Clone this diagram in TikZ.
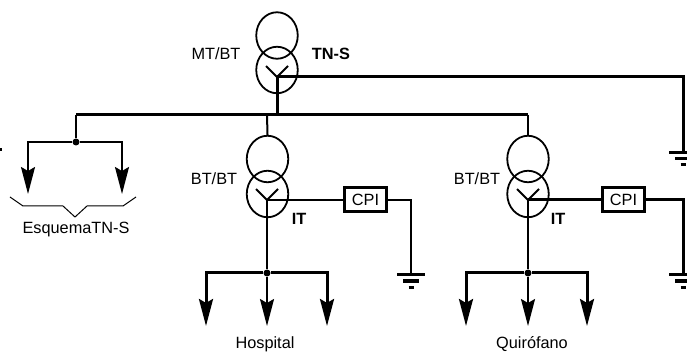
\documentclass[tikz,border=0pt]{standalone}
\usepackage{fontspec}
\setmainfont{Liberation Sans}
\usetikzlibrary{arrows.meta}
\usetikzlibrary{shapes.geometric}
\tikzset{
  winding/.style={ellipse,draw,line width=1.8pt,minimum width=41.5pt,minimum height=46.5pt,inner sep=0pt},
  junction/.style={circle,fill,inner sep=0pt,minimum size=7pt},
  label/.style={inner sep=0pt,font=\fontsize{16.3}{18}\selectfont},
  cpibox/.style={draw,line width=3pt,minimum width=42pt,minimum height=24pt,inner sep=0pt,font=\fontsize{16.3}{18}\selectfont},
  wire/.style={line width=2pt},
  heavy/.style={line width=3pt},
  feed/.style={-{Stealth[length=27pt,width=14pt,inset=4pt]}},
}
\begin{document}
\begin{tikzpicture}[x=1pt,y=-1pt]
    \clip (0,0) rectangle (687,352);

    % The transformers
    \node[winding] (mtupper) at (277,35.5) {};
    \node[winding] (mtlower) at (277,70) {};
    \node[winding] (hospupper) at (267.5,159) {};
    \node[winding] (hosplower) at (267.5,194) {};
    \node[winding] (quirupper) at (528,159) {};
    \node[winding] (quirlower) at (528,194) {};

    % The star points
    \coordinate (mtstar) at (277,77);
    \coordinate (hospstar) at (267,200);
    \coordinate (quirstar) at (528,200);
    \foreach \s in {mtstar,hospstar,quirstar} {
        \draw[wire,shift={(\s)}] (-11,-11) -- (0,0) -- (11,-11);
    }

    % The busbar
    \coordinate (busmt) at (277,115);
    \coordinate (bushosp) at (267,115);
    \coordinate (busleft) at (76,115);
    \coordinate (busright) at (528,115);
    \draw[heavy] (busleft) -- (busright);
    \draw[heavy] (mtstar) -- (busmt);
    \draw[wire] (bushosp) -- (hospupper.north);
    \draw[wire] (busright) -- (quirupper.north);

    % The TN-S branch
    \node[junction] (tnsnode) at (76,142) {};
    \coordinate (tnsleft) at (28,142);
    \coordinate (tnsright) at (122,142);
    \coordinate (tnslefttip) at (28,194);
    \coordinate (tnsrighttip) at (122,194);
    \draw[wire] (busleft) -- (tnsnode);
    \draw[wire,feed] (tnsnode) -- (tnsleft) -- (tnslefttip);
    \draw[wire,feed] (tnsnode) -- (tnsright) -- (tnsrighttip);
    \draw[line width=1pt] (10,197) -- (23,206) -- (63,206) -- (75,217) -- (87,206) -- (123,206) -- (136,197);

    % The Hospital branch
    \node[junction] (hospnode) at (267,273) {};
    \coordinate (hospleft) at (206,273);
    \coordinate (hospright) at (327,273);
    \coordinate (hosplefttip) at (206,326);
    \coordinate (hospmidtip) at (267,326);
    \coordinate (hosprighttip) at (327,326);
    \draw[wire] (hospstar) -- (hospnode);
    \draw[heavy,feed] (hospnode) -- (hospleft) -- (hosplefttip);
    \draw[wire,feed] (hospnode) -- (hospmidtip);
    \draw[heavy,feed] (hospnode) -- (hospright) -- (hosprighttip);

    % The Quirofano branch
    \node[junction] (quirnode) at (528,273) {};
    \coordinate (quirleft) at (466,273);
    \coordinate (quirright) at (587,273);
    \coordinate (quirlefttip) at (466,326);
    \coordinate (quirmidtip) at (528,326);
    \coordinate (quirrighttip) at (587,326);
    \draw[wire] (quirstar) -- (quirnode);
    \draw[heavy,feed] (quirnode) -- (quirleft) -- (quirlefttip);
    \draw[wire,feed] (quirnode) -- (quirmidtip);
    \draw[heavy,feed] (quirnode) -- (quirright) -- (quirrighttip);

    % The earths
    \coordinate (gndmt) at (683,152.5);
    \coordinate (gndhosp) at (411,275);
    \coordinate (gndquir) at (683,275);
    \coordinate (gndstub) at (-12,150);
    \foreach \g in {gndmt,gndhosp,gndquir,gndstub} {
        \draw[heavy,shift={(\g)}] (-14,0) -- (14,0);
        \draw[heavy,shift={(\g)}] (-8,6) -- (8,6);
        \draw[heavy,shift={(\g)}] (-2.5,12) -- (2.5,12);
    }
    \coordinate (mtcorner) at (683,77);
    \draw[heavy] (mtstar) -- (mtcorner) -- (gndmt);

    % The insulation monitors
    \node[cpibox] (cpihosp) at (365.5,200) {CPI};
    \node[cpibox] (cpiquir) at (623.5,200) {CPI};
    \coordinate (hospcorner) at (411,200);
    \coordinate (quircorner) at (683,200);
    \draw[wire] (hospstar) -- (cpihosp);
    \draw[wire] (cpihosp) -- (hospcorner) -- (gndhosp);
    \draw[heavy] (quirstar) -- (cpiquir);
    \draw[heavy] (cpiquir) -- (quircorner) -- (gndquir);

    % The labels
    \node[label] (mtlabel) at (216,54) {MT/BT};
    \node[label,font=\fontsize{16.3}{18}\selectfont\bfseries] (tnslabel) at (331,54) {TN-S};
    \node[label] (hosplabel) at (214,179) {BT/BT};
    \node[label] (quirlabel) at (477,179) {BT/BT};
    \node[label,font=\fontsize{16.3}{18}\selectfont\bfseries] (hospit) at (299,219) {IT};
    \node[label,font=\fontsize{16.3}{18}\selectfont\bfseries] (quirit) at (558,219) {IT};
    \node[label] (esquema) at (76,230) {EsquemaTN-S};
    \node[label] (hospname) at (265,344) {Hospital};
    \node[label] (quirname) at (532,344) {Quirófano};
\end{tikzpicture}
\end{document}
